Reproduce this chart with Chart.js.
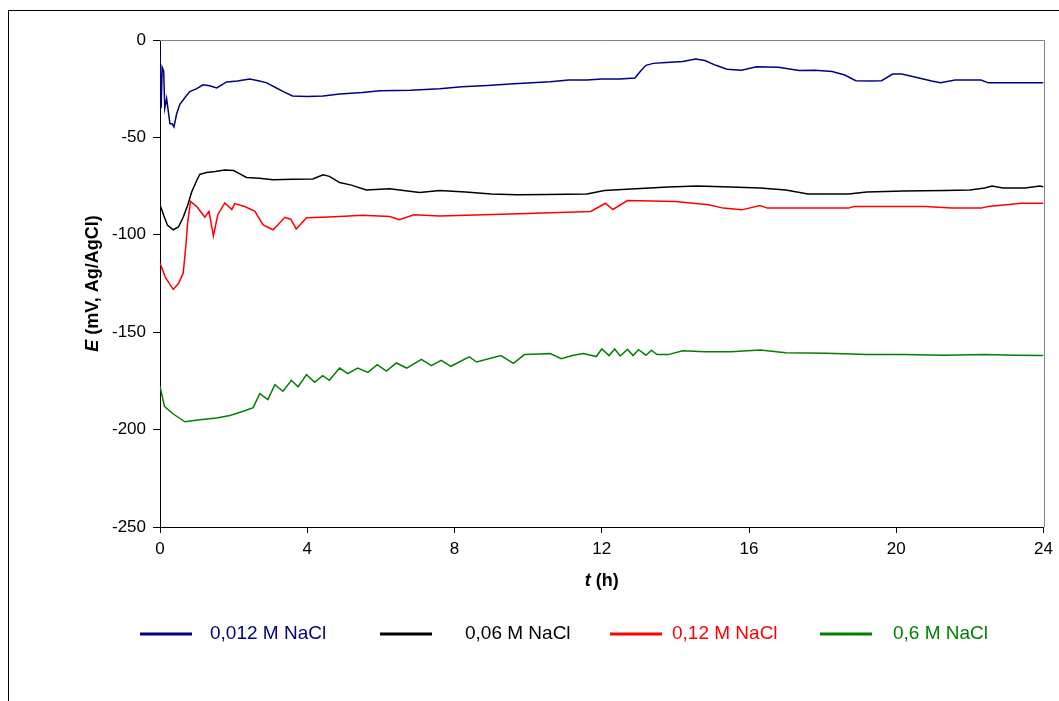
<!DOCTYPE html>
<html>
<head>
<meta charset="utf-8">
<script src="https://cdn.jsdelivr.net/npm/chart.js@4.4.1/dist/chart.umd.min.js"></script>
<style>
  html, body { margin: 0; padding: 0; background: #fff; overflow: hidden; }
  #frame { position: absolute; left: 8px; top: 10px; width: 1200px; height: 900px; border: 1px solid #000; }
  #wrap { position: absolute; left: 0; top: 0; width: 1059px; height: 701px; }
</style>
</head>
<body>
<div id="frame"></div>
<div id="wrap"><canvas id="chart" width="1059" height="701"></canvas></div>
<script>
// Series labels
const seriesNames = ['0,012 M NaCl', '0,06 M NaCl', '0,12 M NaCl', '0,6 M NaCl'];
const seriesColors = ['#000080', '#000000', '#ff0000', '#008000'];

// Time (h) and potential E (mV vs Ag/AgCl)
const tBlue = [0, 0.03, 0.06, 0.1, 0.13, 0.18, 0.27, 0.33, 0.38, 0.45, 0.54, 0.7, 0.81, 1.0, 1.17, 1.35, 1.54, 1.81, 2.1, 2.44,
  2.7, 2.9, 3.15, 3.35, 3.6, 4.0, 4.43, 4.88, 5.5, 5.97, 6.8, 7.6, 8.2, 8.9, 9.5, 10.1, 10.6, 11.1, 11.6, 12.0,
  12.5, 12.9, 13.05, 13.2, 13.4, 13.75, 14.2, 14.55, 14.8, 15.1, 15.4, 15.8, 16.2, 16.8, 17.36, 17.8, 18.26, 18.6, 18.9, 19.3,
  19.6, 19.9, 20.15, 20.5, 20.96, 21.2, 21.6, 22.3, 22.5, 23.2, 24];
const eBlue = [-5, -35, -14, -16, -35, -30, -43, -43, -44.6, -38, -33, -29, -26.5, -25, -23, -23.5, -24.6, -21.5, -21, -20,
  -21, -22, -24.5, -26.5, -28.7, -29, -28.7, -27.7, -27, -26, -25.8, -25, -24, -23.3, -22.6, -22, -21.4, -20.5, -20.5, -20,
  -20, -19.5, -16, -13, -12, -11.6, -11, -9.8, -10.5, -13, -15, -15.5, -13.7, -14, -15.7, -15.5, -16.2, -18, -20.9, -21,
  -20.9, -17.5, -17.5, -19, -21, -21.9, -20.5, -20.5, -22, -22, -22];

const tBlack = [0, 0.1, 0.2, 0.36, 0.5, 0.63, 0.75, 0.86, 1.0, 1.08, 1.26, 1.5, 1.76, 2.0, 2.17, 2.35, 2.7, 3.07, 3.6, 4.15,
  4.43, 4.6, 4.88, 5.2, 5.6, 6.24, 7.05, 7.6, 8.3, 9.0, 9.7, 10.5, 11.6, 12.07, 12.8, 13.8, 14.6, 15.5, 16.3, 17.0,
  17.6, 18.2, 18.7, 19.2, 20.2, 21.3, 22.0, 22.4, 22.6, 22.9, 23.5, 23.9, 24];
const eBlack = [-84.6, -90, -95, -97.4, -96, -91, -85, -78, -72, -69, -68, -67.5, -66.7, -67, -68.7, -70.6, -71, -71.8, -71.5, -71.3,
  -69.2, -70, -73.2, -74.5, -77, -76.4, -78.3, -77.3, -78, -79, -79.5, -79.3, -79, -77.3, -76.5, -75.4, -75, -75.5, -76, -77,
  -79, -79, -79, -78, -77.5, -77.3, -77, -76, -75, -76, -76, -75, -75.4];

const tRed = [0, 0.15, 0.36, 0.5, 0.63, 0.7, 0.75, 0.83, 1.0, 1.1, 1.22, 1.33, 1.45, 1.57, 1.76, 1.95, 2.03, 2.3, 2.58, 2.8,
  3.07, 3.2, 3.39, 3.55, 3.7, 3.98, 4.4, 4.88, 5.5, 6.24, 6.5, 6.9, 7.6, 8.8, 10.2, 11.7, 12.1, 12.3, 12.7, 14.0,
  14.9, 15.3, 15.8, 16.3, 16.5, 18.7, 18.85, 20.8, 21.5, 22.3, 22.5, 23.4, 24];
const eRed = [-114.5, -122, -128, -125, -119.7, -106, -94, -82.9, -85.5, -88, -91, -88, -100.5, -89.7, -83.6, -87, -84, -85.5, -88, -94.9,
  -97.4, -95, -91, -92, -97, -91.3, -91, -90.6, -90, -90.6, -92.3, -89.7, -90.3, -89.7, -88.9, -88, -83.8, -87, -82.4, -82.9,
  -84.6, -86.3, -87.2, -85, -86.3, -86.3, -85.5, -85.5, -86.3, -86.3, -85.5, -83.8, -83.8];

const tGreen = [0, 0.12, 0.36, 0.68, 1.08, 1.54, 1.9, 2.26, 2.53, 2.71, 2.93, 3.12, 3.34, 3.57, 3.75, 3.98, 4.2, 4.42, 4.6, 4.88,
  5.1, 5.37, 5.65, 5.9, 6.15, 6.42, 6.7, 7.1, 7.37, 7.64, 7.9, 8.4, 8.6, 9.26, 9.6, 9.9, 10.3, 10.6, 10.9, 11.2,
  11.5, 11.85, 12.0, 12.2, 12.35, 12.5, 12.7, 12.85, 13.0, 13.2, 13.35, 13.5, 13.8, 14.2, 14.8, 15.5, 16.3, 17.0, 18.1, 19.2,
  20.2, 21.3, 22.4, 23.2, 24];
const eGreen = [-177.8, -188, -192, -196, -195, -194, -192.8, -190.6, -188.7, -181.5, -184.6, -176.9, -180.3, -174.7, -178, -171.8, -175.7, -172.3, -174.7, -168.4,
  -171.3, -168.4, -170.6, -166.7, -170, -165.8, -168.4, -164, -167.2, -164.4, -167.5, -162.7, -165.3, -162, -166, -161.5, -161.2, -161, -163.6, -162,
  -161, -162.5, -158.6, -162, -158.6, -162.2, -158.8, -162, -159, -161.8, -159.2, -161.5, -161.5, -159.5, -160, -160, -159.2, -160.5, -160.8, -161.5,
  -161.5, -161.8, -161.5, -161.8, -162];

const xTicks = [0, 4, 8, 12, 16, 20, 24];
const yTicks = [0, -50, -100, -150, -200, -250];

const FONT = '"Liberation Sans", Arial, sans-serif';

function toPoints(ts, es) {
  return ts.map((t, i) => ({ x: t, y: es[i] }));
}

function drawParts(ctx, parts, cx, cy) {
  let total = 0;
  parts.forEach(p => { ctx.font = p.font; p.w = ctx.measureText(p.text).width; total += p.w; });
  let x = cx - total / 2;
  ctx.textAlign = 'left';
  ctx.textBaseline = 'middle';
  parts.forEach(p => { ctx.font = p.font; ctx.fillText(p.text, x, cy); x += p.w; });
}

// grey frame on top/right, axis titles and the legend row
const decorations = {
  id: 'decorations',
  beforeDatasetsDraw(chart) {
    const { ctx, chartArea: a } = chart;
    ctx.save();
    ctx.strokeStyle = '#808080';
    ctx.lineWidth = 1;
    ctx.beginPath();
    ctx.moveTo(a.left, Math.round(a.top) + 0.5);
    ctx.lineTo(Math.round(a.right) + 0.5, Math.round(a.top) + 0.5);
    ctx.lineTo(Math.round(a.right) + 0.5, a.bottom);
    ctx.stroke();
    ctx.restore();
  },
  afterDraw(chart, args, opts) {
    const { ctx, chartArea: a } = chart;
    ctx.save();
    ctx.fillStyle = '#000';
    drawParts(ctx, [
      { text: 't', font: 'italic bold 18px ' + FONT },
      { text: ' (h)', font: 'bold 18px ' + FONT }
    ], (a.left + a.right) / 2, 581);

    ctx.save();
    ctx.translate(opts.yTitleX, (a.top + a.bottom) / 2);
    ctx.rotate(-Math.PI / 2);
    drawParts(ctx, [
      { text: 'E', font: 'italic bold 18px ' + FONT },
      { text: ' (mV, Ag/AgCl)', font: 'bold 18px ' + FONT }
    ], 0, 0);
    ctx.restore();

    // legend
    chart.data.datasets.forEach((ds, i) => {
      const y = opts.legendY;
      ctx.strokeStyle = ds.borderColor;
      ctx.lineWidth = 3;
      ctx.beginPath();
      ctx.moveTo(opts.lineX[i], y);
      ctx.lineTo(opts.lineX[i] + opts.lineLen, y);
      ctx.stroke();
      ctx.fillStyle = ds.borderColor;
      ctx.font = '19px ' + FONT;
      ctx.textAlign = 'left';
      ctx.textBaseline = 'middle';
      ctx.fillText(ds.label, opts.textX[i], y);
    });
    ctx.restore();
  }
};

const ctx = document.getElementById('chart').getContext('2d');
new Chart(ctx, {
  type: 'line',
  data: {
    datasets: [
      { label: seriesNames[0], data: toPoints(tBlue, eBlue), borderColor: seriesColors[0] },
      { label: seriesNames[1], data: toPoints(tBlack, eBlack), borderColor: seriesColors[1] },
      { label: seriesNames[2], data: toPoints(tRed, eRed), borderColor: seriesColors[2] },
      { label: seriesNames[3], data: toPoints(tGreen, eGreen), borderColor: seriesColors[3] }
    ]
  },
  options: {
    responsive: false,
    animation: false,
    devicePixelRatio: 1,
    layout: { padding: { left: 0, right: 14, top: 40, bottom: 0 } },
    elements: {
      point: { radius: 0 },
      line: { borderWidth: 1.5, tension: 0 }
    },
    plugins: {
      legend: { display: false },
      tooltip: { enabled: false },
      decorations: {
        yTitleX: 93,
        legendY: 634,
        lineX: [140, 380, 610, 820],
        lineLen: 52,
        textX: [210, 465, 672, 893]
      }
    },
    scales: {
      x: {
        type: 'linear',
        min: 0,
        max: 24,
        afterBuildTicks: s => { s.ticks = xTicks.map(v => ({ value: v })); },
        afterFit: s => { s.height = 174; },
        ticks: { color: '#000', font: { family: FONT, size: 17 }, padding: 6, maxRotation: 0 },
        grid: { display: true, drawOnChartArea: false, color: '#000', tickLength: 6 },
        border: { color: '#000', width: 1 }
      },
      y: {
        type: 'linear',
        min: -250,
        max: 0,
        afterBuildTicks: s => { s.ticks = yTicks.map(v => ({ value: v })); },
        afterFit: s => { s.width = 160; },
        ticks: { color: '#000', font: { family: FONT, size: 17 }, padding: 7 },
        grid: { display: true, drawOnChartArea: false, color: '#000', tickLength: 7 },
        border: { color: '#000', width: 1 }
      }
    }
  },
  plugins: [decorations]
});
</script>
</body>
</html>
